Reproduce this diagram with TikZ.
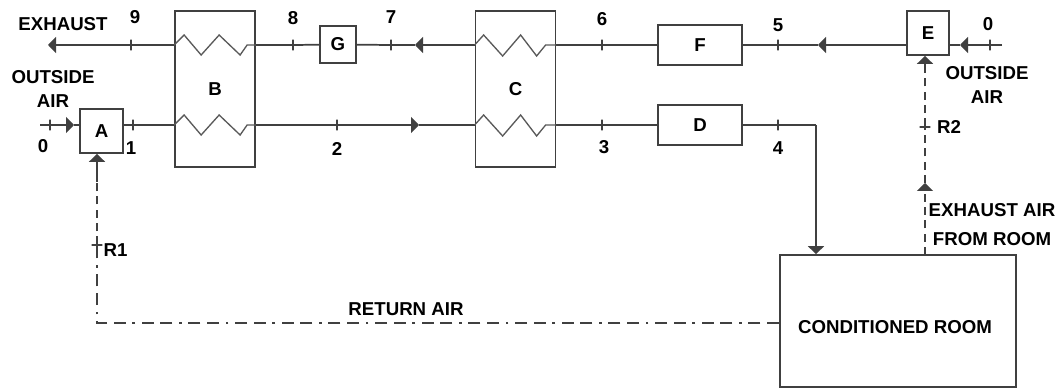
\documentclass[tikz,border=0pt]{standalone}
\usepackage{fontspec}
\setmainfont{Liberation Sans}
\usetikzlibrary{positioning, arrows.meta}

\begin{document}
\begin{tikzpicture}[x = 0.75pt, y = -0.75pt, -, auto, on grid, line width = 1.3pt,
                    font = \fontsize{14}{18}\selectfont\bfseries,
                    >={Triangle[length = 6pt, width = 12pt]},
                    unit/.style = {rectangle,
                                   draw,
                                   color = black!75,
                                   text = black,
                                   inner sep = 0pt},
                    exchanger/.style = {unit,
                                        minimum width = 60pt,
                                        minimum height = 117pt},
                    duct/.style = {unit,
                                   minimum width = 63pt,
                                   minimum height = 30pt},
                    tick/.style = {rectangle,
                                   draw,
                                   color = black!75,
                                   line width = 0.8pt,
                                   inner sep = 0pt,
                                   minimum width = 0pt,
                                   minimum height = 8pt},
                    crosstick/.style = {tick,
                                        minimum width = 8pt,
                                        minimum height = 0pt},
                    pipe/.style = {black!75},
                    coil/.style = {black!65, line width = 1pt},
                    retour/.style = {black!75, line width = 1pt, dash pattern = on 6pt off 4pt},
                    returnline/.style = {black!75, line width = 1pt,
                                         dash pattern = on 9pt off 5pt on 9pt off 5pt on 2pt off 5pt},
                    caption/.style = {align = center, inner sep = 0pt}]

\useasboundingbox (0,0) rectangle (1061,391);

\node[unit, minimum width = 32pt, minimum height = 33pt] (A) at (101.5,131) {A};
\node[exchanger] (B) at (215,89) {B};
\node[unit, minimum width = 27pt, minimum height = 28pt] (G) at (338,44.5) {G};
\node[exchanger] (C) at (515.5,89) {C};
\node[duct] (F) at (700,45) {F};
\node[duct] (D) at (700,125) {D};
\node[unit, minimum width = 32pt, minimum height = 33pt] (E) at (928,33) {E};
\node[unit, minimum width = 177pt, minimum height = 99pt] (room) at (898,321) {};

% station ticks on the upper line
\coordinate (exhaust) at (48,45);
\node[tick] (t9) at (131,45) {};
\node[tick] (t8) at (293,45) {};
\node[tick] (t7) at (391,45) {};
\node[tick] (t6) at (602,45) {};
\node[tick] (t5) at (778,45) {};
\node[tick] (t0r) at (990,45) {};
\coordinate (endr) at (1002,45);

% station ticks on the lower line
\coordinate (startl) at (40,125);
\node[tick] (t0l) at (50,125) {};
\node[tick] (t1) at (133,125) {};
\node[tick] (t2) at (337,125) {};
\node[tick] (t3) at (602,125) {};
\node[tick] (t4) at (778,125) {};

% arrow heads part way along the lines
\coordinate (h0l) at (74,125);
\coordinate (h2) at (419,125);
\coordinate (h7) at (415,45);
\coordinate (h5) at (818,45);
\coordinate (h0r) at (960,45);
\coordinate (bend) at (816,125);
\coordinate (h0) at (925,183);
\coordinate (leave) at (925,255);
\coordinate (corner) at (97,323);
\coordinate (s1) at (97,182);
\coordinate (s2) at (925,72);
\node[crosstick] (r1) at (97,245) {};
\node[crosstick] (r2) at (925,127) {};

% upper line
\draw[->, pipe] (t9) -- (exhaust);
\draw[pipe] (t9) -- (B.west |- t9);
\draw[pipe] (G) -- (t8);
\draw[pipe] (t8) -- (B.east |- t8);
\draw[pipe] (G) -- (t7);
\draw[pipe] (t7) -- (h7);
\draw[->, pipe] (C.west |- t7) -- (h7);
\draw[pipe] (C.east |- t6) -- (t6);
\draw[pipe] (t6) -- (F);
\draw[pipe] (F) -- (t5);
\draw[pipe] (t5) -- (h5);
\draw[->, pipe] (E.west |- h5) -- (h5);
\draw[pipe] (E.east |- h0r) -- (h0r);
\draw[->, pipe] (endr) -- (h0r);

% lower line
\draw[->, pipe] (startl) -- (h0l);
\draw[pipe] (h0l) -- (A.west |- h0l);
\draw[pipe] (A.east |- t1) -- (B.west |- t1);
\draw[->, pipe] (B.east |- t2) -- (h2);
\draw[pipe] (h2) -- (C.west |- h2);
\draw[pipe] (C.east |- t3) -- (D);
\draw[pipe] (D) -- (bend);
\draw[->, pipe] (bend) -- (room.north -| bend);

% coils inside the exchangers
\draw[coil] (B.west |- t9) -- ++(10,-10) -- ++(17,20) -- ++(18,-20) -- ++(21,20) -- ++(7,-10) -- (B.east |- t8);
\draw[coil] (B.west |- t1) -- ++(10,-10) -- ++(17,20) -- ++(18,-20) -- ++(21,20) -- ++(7,-10) -- (B.east |- t2);
\draw[coil] (C.west |- t7) -- ++(9,-10) -- ++(19,21) -- ++(18,-21) -- ++(16,21) -- ++(9,-11) -- (C.east |- t6);
\draw[coil] (C.west |- t2) -- ++(9,-10) -- ++(19,21) -- ++(18,-21) -- ++(16,21) -- ++(9,-11) -- (C.east |- t3);

% return and exhaust air
\draw[->, pipe, line width = 1pt] (s1) -- (A.south -| s1);
\draw[retour] (r1) -- (s1);
\draw[returnline] (room.west |- corner) -- (corner) -- (r1);
\draw[->, pipe, line width = 1pt] (s2) -- (E.south -| s2);
\draw[retour] (r2) -- (s2);
\draw[retour] (h0) -- (r2);
\draw[retour, ->] (leave) -- (h0);

% station numbers
\node[caption] (n9) at (135,17) {9};
\node[caption] (n8) at (293,18) {8};
\node[caption] (n7) at (391,17) {7};
\node[caption] (n6) at (602,19) {6};
\node[caption] (n5) at (778,25) {5};
\node[caption] (n0r) at (988,24) {0};
\node[caption] (n0l) at (43,146) {0};
\node[caption] (n1) at (131,148) {1};
\node[caption] (n2) at (337,149) {2};
\node[caption] (n3) at (604,147) {3};
\node[caption] (n4) at (778,148) {4};

% captions
\node[caption] (exhausttext) at (63,24) {EXHAUST};
\node[caption] (outsidel) at (53,89) {OUTSIDE\\AIR};
\node[caption] (outsider) at (987,85) {OUTSIDE\\AIR};
\node[caption, right = 14pt of r1, yshift = -4pt] (r1text) {R1};
\node[caption, right = 18pt of r2] (r2text) {R2};
\node[caption] (roomair) at (992,225) {EXHAUST AIR\\[3.7pt]FROM ROOM};
\node[caption] (returntext) at (406,309) {RETURN AIR};
\node[caption] (roomtext) at (895,327) {CONDITIONED ROOM};

\end{tikzpicture}
\end{document}
